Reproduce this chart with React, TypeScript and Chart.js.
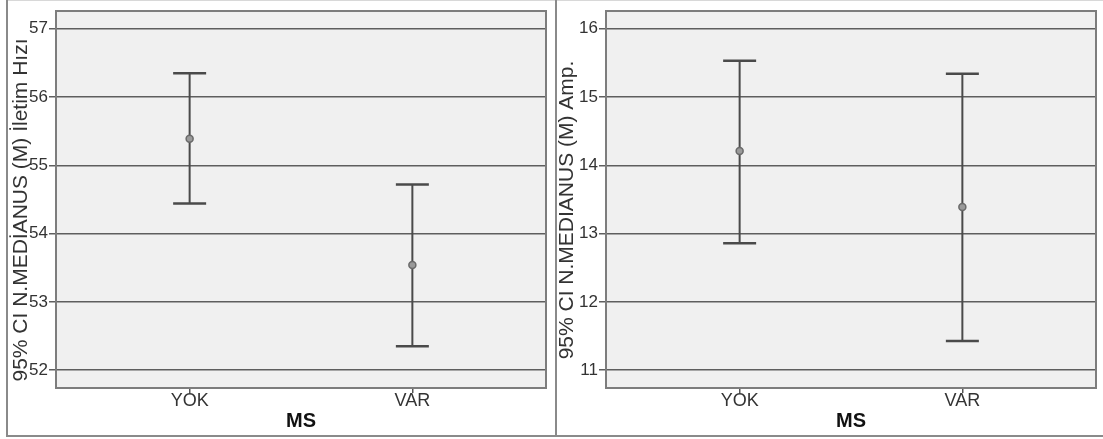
import React, { useEffect, useRef } from "react";
import { Chart, registerables } from "chart.js";

Chart.register(...registerables);

// ---------- data ----------
const categories = ["YOK", "VAR"];
const xTitle = "MS";

const leftTitle = "95% CI N.MEDİANUS (M) İletim Hızı";
const leftMean = [55.39, 53.54];
const leftLower = [54.44, 52.35];
const leftUpper = [56.35, 54.72];
const leftTicks = [52, 53, 54, 55, 56, 57];
const leftRange = [51.74, 57.26];

const rightTitle = "95% CI N.MEDİANUS (M) Amp.";
const rightMean = [14.21, 13.39];
const rightLower = [12.86, 11.43];
const rightUpper = [15.53, 15.34];
const rightTicks = [11, 12, 13, 14, 15, 16];
const rightRange = [10.74, 16.26];

const FONT = "'Liberation Sans', Arial, sans-serif";
const LINE = "#4a4a4a";
// trailing en-spaces nudge the rotated title slightly downward, as in the reference
const TITLE_TAIL = "\u2002\u2002";

type PanelProps = {
  title: string;
  mean: number[];
  lower: number[];
  upper: number[];
  ticks: number[];
  range: number[];
  yWidth: number;
  padRight: number;
  titlePad: number;
};

const framePlugin = {
  id: "frame",
  beforeDraw(chart: any) {
    const { ctx, chartArea: a } = chart;
    ctx.save();
    ctx.fillStyle = "#f0f0f0";
    ctx.fillRect(a.left, a.top, a.right - a.left, a.bottom - a.top);
    ctx.restore();
  },
  afterDraw(chart: any) {
    const { ctx, chartArea: a } = chart;
    ctx.save();
    ctx.strokeStyle = "#7d7d7d";
    ctx.lineWidth = 2;
    ctx.strokeRect(a.left, a.top, a.right - a.left, a.bottom - a.top);
    ctx.restore();
  },
};

function Panel(p: PanelProps) {
  const ref = useRef<HTMLCanvasElement | null>(null);
  useEffect(() => {
    if (!ref.current) return;
    const datasets: any[] = [];
    categories.forEach((_, i) => {
      datasets.push({
        type: "line",
        data: [
          { x: i, y: p.lower[i] },
          { x: i, y: p.upper[i] },
        ],
        showLine: true,
        borderColor: LINE,
        borderWidth: 2,
        pointRadius: 0,
        order: 3,
      });
    });
    datasets.push({
      type: "scatter",
      data: categories.flatMap((_, i) => [
        { x: i, y: p.lower[i] },
        { x: i, y: p.upper[i] },
      ]),
      pointStyle: "line",
      pointRadius: 16.5,
      borderColor: LINE,
      borderWidth: 2.5,
      order: 2,
    });
    datasets.push({
      type: "scatter",
      data: categories.map((_, i) => ({ x: i, y: p.mean[i] })),
      pointStyle: "circle",
      pointRadius: 3.5,
      backgroundColor: "#9a9a9a",
      borderColor: "#6a6a6a",
      borderWidth: 1.5,
      order: 1,
    });

    const chart = new Chart(ref.current, {
      type: "scatter",
      data: { datasets },
      plugins: [framePlugin],
      options: {
        animation: false,
        responsive: false,
        maintainAspectRatio: false,
        events: [],
        layout: { autoPadding: false, padding: { top: 0, right: p.padRight, left: 0, bottom: 0 } },
        plugins: { legend: { display: false }, tooltip: { enabled: false } },
        scales: {
          x: {
            type: "linear",
            min: -0.6,
            max: 1.6,
            afterBuildTicks: (s: any) => {
              s.ticks = categories.map((_, i) => ({ value: i }));
            },
            afterFit: (s: any) => {
              s.height = 47;
            },
            ticks: {
              callback: (v: any) => categories[Math.round(Number(v))] ?? "",
              font: { family: FONT, size: 18 },
              color: "#333",
              padding: -3,
              autoSkip: false,
              maxRotation: 0,
            },
            grid: {
              drawOnChartArea: false,
              drawTicks: true,
              tickLength: 5,
              color: "#555",
              lineWidth: 1.5,
            },
            border: { display: false },
            title: {
              display: true,
              text: xTitle,
              font: { family: FONT, size: 20, weight: "bold" },
              color: "#111",
              padding: { top: 0, bottom: 2 },
            },
          },
          y: {
            type: "linear",
            min: p.range[0],
            max: p.range[1],
            afterBuildTicks: (s: any) => {
              s.ticks = p.ticks.map((v) => ({ value: v }));
            },
            afterFit: (s: any) => {
              s.width = p.yWidth;
            },
            ticks: {
              font: { family: FONT, size: 17, lineHeight: 1.06 },
              color: "#333",
              padding: 1,
            },
            grid: {
              color: "#5e5e5e",
              lineWidth: 1.5,
              tickLength: 7,
            },
            border: { display: false },
            title: {
              display: true,
              text: p.title + TITLE_TAIL,
              font: { family: FONT, size: 21 },
              color: "#333",
              padding: { top: p.titlePad, bottom: 0 },
            },
          },
        },
      } as any,
    });
    return () => chart.destroy();
  }, []);
  return <canvas ref={ref} width={547} height={434} style={{ display: "block" }} />;
}

export default function App() {
  return (
    <div
      style={{
        position: "absolute",
        left: 0,
        top: 0,
        width: 1103,
        height: 439,
        background: "#fff",
        overflow: "hidden",
      }}
    >
      <div style={{ position: "absolute", left: 6, top: 0, width: 1097, height: 1, background: "#d8d8d8" }} />
      <div style={{ position: "absolute", left: 6, top: 0, width: 2, height: 437, background: "#8a8a8a" }} />
      <div style={{ position: "absolute", left: 555, top: 0, width: 2, height: 437, background: "#8a8a8a" }} />
      <div style={{ position: "absolute", left: 6, top: 435, width: 1097, height: 2, background: "#8a8a8a" }} />
      <div style={{ position: "absolute", left: 8, top: 1, width: 547, height: 434 }}>
        <Panel
          title={leftTitle}
          mean={leftMean}
          lower={leftLower}
          upper={leftUpper}
          ticks={leftTicks}
          range={leftRange}
          yWidth={48}
          padRight={9}
          titlePad={1}
        />
      </div>
      <div style={{ position: "absolute", left: 557, top: 1, width: 546, height: 434 }}>
        <Panel
          title={rightTitle}
          mean={rightMean}
          lower={rightLower}
          upper={rightUpper}
          ticks={rightTicks}
          range={rightRange}
          yWidth={49}
          padRight={8}
          titlePad={-2}
        />
      </div>
    </div>
  );
}
